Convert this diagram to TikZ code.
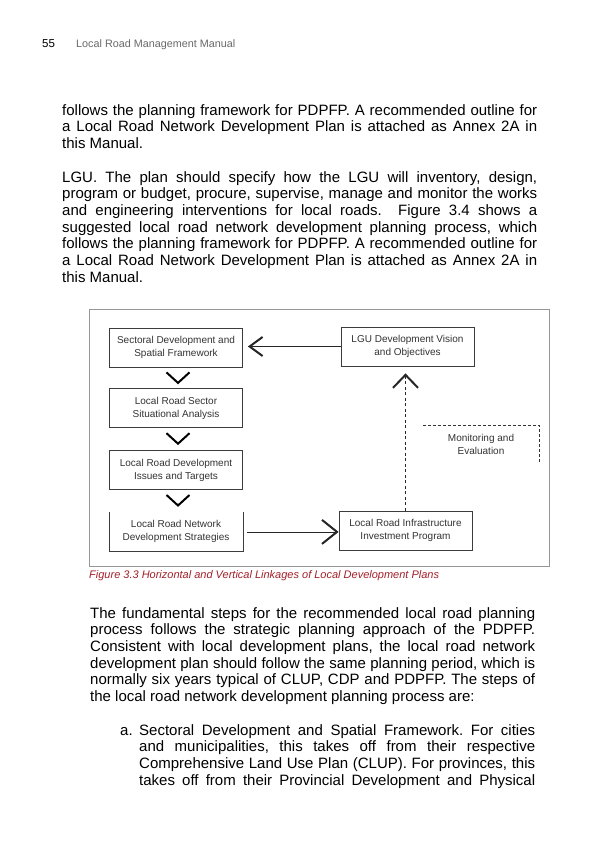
\documentclass[tikz,border=0pt]{standalone}
\usepackage{fontspec}
\setmainfont{Liberation Sans}
\usetikzlibrary{arrows.meta,positioning}
\definecolor{capred}{RGB}{163,32,42}
\definecolor{boxgray}{RGB}{60,60,60}
\definecolor{framegray}{RGB}{150,150,150}
\definecolor{headgray}{RGB}{105,105,105}
\tikzset{
bodytext/.style = {anchor=north west, inner sep=0pt, align=justify,
font=\fontsize{15}{16.7}\selectfont\frenchspacing},
planbox/.style = {draw=boxgray, line width=0.8pt, text=black!80, align=center,
minimum width=133pt, minimum height=39pt, inner sep=2pt,
font=\fontsize{10}{13}\selectfont},% boite du plan
chevline/.style = {line width=2pt},% chevron sans tige
link/.style = {line width=0.8pt, black!85},% liaison entre plans
dashedge/.style = {line width=0.7pt, black!80, dash pattern=on 3pt off 2pt}
}
\begin{document}
\begin{tikzpicture}[x=1pt,y=-1pt]
\useasboundingbox[fill=white] (0,0) rectangle (600,850);

% en-tete
\node[anchor=base west, inner sep=0pt, font=\fontsize{11.5}{13}\selectfont] (pageno) at (42,48) {55};
\node[anchor=base west, inner sep=0pt, text=headgray, font=\fontsize{10.8}{13}\selectfont] (runhead) at (76,48) {Local Road Management Manual};

% texte avant la figure
\node[bodytext, text width=475pt] (parone) at (62,104) {follows the planning framework for PDPFP. A recommended outline for\linebreak
a Local Road Network Development Plan is attached as Annex 2A in\linebreak
this Manual.};
\node[bodytext, text width=475pt] (partwo) at (62,171) {LGU. The plan should specify how the LGU will inventory, design,\linebreak
program or budget, procure, supervise, manage and monitor the works\linebreak
and engineering interventions for local roads. \ Figure 3.4 shows a\linebreak
suggested local road network development planning process, which\linebreak
follows the planning framework for PDPFP. A recommended outline for\linebreak
a Local Road Network Development Plan is attached as Annex 2A in\linebreak
this Manual.};

% cadre de la figure
\draw[framegray, line width=0.8pt] (89,309) rectangle (549,566);

% colonne gauche
\node[planbox] (sdsf) at (176,347.5) {Sectoral Development and\\Spatial Framework};
\node[planbox, below=21pt of sdsf] (sector) {Local Road Sector\\Situational Analysis};
\node[planbox, below=22pt of sector] (issues) {Local Road Development\\Issues and Targets};
\node[planbox, below=22pt of issues, draw=none] (strat) {Local Road Network\\Development Strategies};
\draw[boxgray, line width=0.8pt] (strat.north west) -- (strat.south west) -- (strat.south east) -- (strat.north east);

% colonne droite
\node[planbox] (lgu) at (407.5,346.5) {LGU Development Vision\\and Objectives};
\node[planbox] (infra) at (405.5,530.5) {Local Road Infrastructure\\Investment Program};
\node[align=center, inner sep=0pt, text=black!80, minimum width=116pt, minimum height=36pt,
  font=\fontsize{10}{13}\selectfont] (monitor) at (481,444) {Monitoring and\\Evaluation};
\draw[dashedge] (monitor.north west) -- (monitor.north east) -- (monitor.south east);

% liaisons
\foreach \b in {sdsf,sector,issues}
  \draw[chevline] ([shift={(-9.5,5)}]\b.south) -- ([shift={(2,15.5)}]\b.south) -- ([shift={(13.5,5)}]\b.south);
\draw[link, -{Straight Barb[length=13pt,width=19pt,line width=2pt]}, shorten >=5pt]
  (lgu.west) -- (sdsf.east |- lgu.west);
\draw[link, -{Straight Barb[length=15pt,width=24pt,line width=2pt]}, shorten <=4pt]
  (strat.east) -- (infra.west |- strat.east);
\draw[link, dash pattern=on 3pt off 2.5pt, -{Straight Barb[length=13pt,width=25pt,line width=2pt]}, shorten >=7pt]
  (infra.north) -- (infra.north |- lgu.south);

% legende
\node[anchor=base west, inner sep=0pt, text=capred, font=\fontsize{11}{13}\selectfont\itshape] (caption) at (89,578)
  {Figure 3.3 Horizontal and Vertical Linkages of Local Development Plans};

% texte apres la figure
\node[bodytext, text width=445pt] (parthree) at (90,607) {The fundamental steps for the recommended local road planning\linebreak
process follows the strategic planning approach of the PDPFP.\linebreak
Consistent with local development plans, the local road network\linebreak
development plan should follow the same planning period, which is\linebreak
normally six years typical of CLUP, CDP and PDPFP. The steps of\linebreak
the local road network development planning process are:};
\node[anchor=base west, inner sep=0pt, font=\fontsize{15}{16.7}\selectfont] (itema) at (120,735) {a.};
\node[bodytext, text width=396pt] (itematext) at (139,724) {Sectoral Development and Spatial Framework. For cities\linebreak
and municipalities, this takes off from their respective\linebreak
Comprehensive Land Use Plan (CLUP). For provinces, this\linebreak
\makebox[\linewidth][s]{takes off from their Provincial Development and Physical}};
\end{tikzpicture}
\end{document}
